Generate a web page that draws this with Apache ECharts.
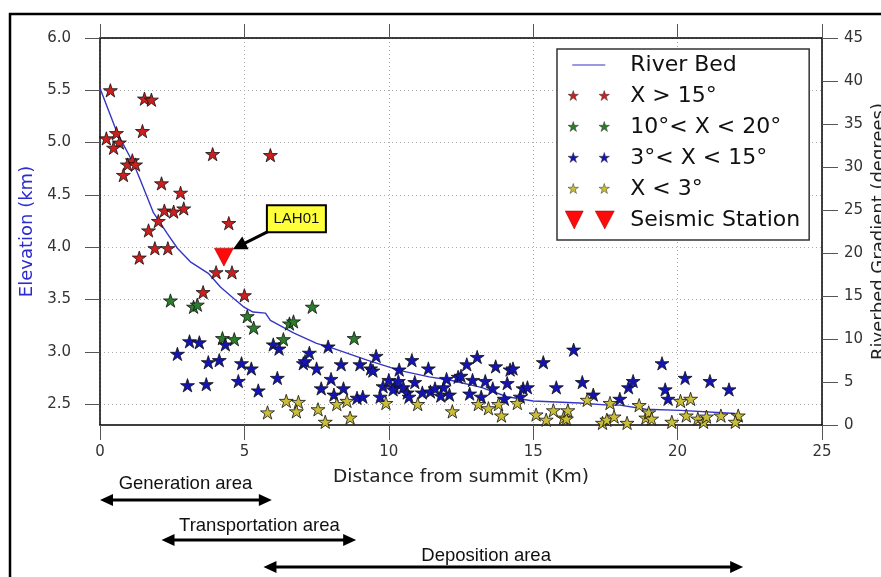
<!DOCTYPE html>
<html>
<head>
<meta charset="utf-8">
<script src="https://cdn.jsdelivr.net/npm/echarts@6/dist/echarts.min.js"></script>
<style>
  html, body { margin: 0; padding: 0; background: #fff; }
  #main { width: 881px; height: 577px; }
</style>
</head>
<body>
<div id="main"></div>
<script>
// river bed profile (km from summit, elevation km)
const riverKm = [0, 0.6, 1.16, 1.4, 1.85, 2.33, 2.68, 3.13, 3.75, 4.17, 4.63, 4.97, 5.3, 5.73, 5.9, 6.7, 7.5, 8.1, 9.25, 10.4, 11.4, 12.1, 13.2, 14.1, 15.0, 16.6, 17.6, 18.0, 18.9, 20.1, 22.0];
const riverElev = [5.52, 5.09, 4.80, 4.64, 4.33, 4.13, 3.99, 3.86, 3.75, 3.62, 3.51, 3.43, 3.38, 3.37, 3.30, 3.18, 3.08, 3.03, 2.92, 2.82, 2.76, 2.73, 2.66, 2.57, 2.53, 2.51, 2.49, 2.49, 2.45, 2.44, 2.41];

// [distance, elevation] per gradient class
const steepPts = [[0.36,5.50],[1.54,5.42],[1.78,5.41],[0.22,5.04],[0.57,5.09],[1.47,5.11],[0.67,5.00],[0.47,4.95],[1.12,4.83],[0.95,4.79],[1.23,4.79],[0.81,4.69],[3.9,4.89],[5.9,4.88],[2.13,4.61],[2.79,4.52],[2.23,4.35],[2.55,4.34],[2.9,4.37],[2.02,4.25],[4.46,4.23],[1.68,4.16],[1.9,3.99],[2.35,3.99],[1.36,3.90],[4.02,3.76],[4.57,3.76],[5.0,3.54],[3.57,3.57]];
const midPts = [[2.44,3.49],[3.24,3.43],[3.37,3.45],[5.1,3.34],[5.32,3.23],[4.24,3.13],[4.65,3.12],[7.35,3.43],[6.56,3.27],[6.7,3.29],[6.35,3.12],[8.8,3.13]];
const gentlePts = [[3.1,3.10],[3.44,3.09],[4.34,3.07],[2.68,2.98],[3.75,2.90],[4.13,2.92],[4.9,2.89],[5.24,2.84],[3.03,2.68],[3.68,2.69],[4.79,2.72],[5.48,2.63],
  [6.0,3.07],[6.2,3.03],[6.14,2.75],[7.25,2.99],[7.04,2.89],[7.1,2.91],[7.5,2.84],[7.9,3.05],[8.35,2.88],[8.0,2.74],[7.66,2.65],[8.43,2.65],[8.1,2.59],[9.0,2.88],[9.37,2.84],[9.45,2.82],[9.56,2.96],[8.9,2.56],[9.1,2.57],[9.7,2.57],[9.8,2.67],[10.0,2.73],
  [10.2,2.66],[10.33,2.72],[10.5,2.66],[10.64,2.61],[10.15,2.64],[10.7,2.57],[10.8,2.92],[10.36,2.83],[10.9,2.71],[11.37,2.84],[11.16,2.61],[11.44,2.62],[11.6,2.65],
  [11.9,2.66],[11.8,2.58],[12.1,2.59],[12.0,2.74],[12.4,2.76],[12.5,2.77],[12.7,2.88],[13.06,2.95],[12.9,2.73],[13.34,2.72],[12.8,2.60],[13.2,2.57],[13.6,2.65],[13.7,2.86],[14.2,2.83],[14.3,2.84],[14.1,2.70],[14.0,2.55],[14.55,2.57],[14.65,2.65],[14.8,2.66],
  [15.35,2.90],[16.4,3.02],[16.7,2.71],[15.8,2.66],[17.08,2.59],[18.0,2.55],[18.3,2.66],[18.46,2.72],[19.46,2.89],[19.57,2.64],[19.67,2.55],[20.26,2.75],[21.12,2.72],[21.78,2.64]];
const flatPts = [[5.8,2.42],[6.45,2.53],[6.87,2.52],[6.8,2.43],[7.55,2.45],[7.8,2.33],[8.2,2.50],[8.55,2.53],[8.66,2.37],[9.9,2.51],[11.0,2.50],[12.2,2.43],[13.1,2.50],[13.45,2.46],[13.8,2.50],[13.9,2.39],[14.45,2.51],[15.1,2.40],[15.45,2.35],[15.7,2.44],[16.05,2.37],[16.15,2.36],[16.2,2.44],[16.87,2.54],[17.4,2.32],[17.55,2.35],[17.66,2.51],[17.8,2.38],[18.25,2.32],[18.67,2.49],[18.9,2.37],[19.0,2.42],[19.1,2.36],[19.8,2.33],[20.1,2.53],[20.45,2.55],[20.3,2.39],[20.7,2.36],[20.9,2.33],[21.0,2.38],[21.5,2.39],[22.1,2.39],[22.0,2.33]];
const stationPt = [[4.29, 3.905]];
const stationName = "LAH01";

const elevTicks = [2.5, 3.0, 3.5, 4.0, 4.5, 5.0, 5.5, 6.0];
const legendNames = ["River Bed", "X > 15°", "10°< X < 20°", "3°< X < 15°", "X < 3°", "Seismic Station"];

// annotated zones along the x axis (km)
const areaNames = ["Generation area", "Transportation area", "Deposition area"];
const areaStart = [0, 2.13, 5.66];
const areaEnd = [5.95, 8.87, 22.27];
const areaTextKm = [2.96, 5.52, 13.37];

function starPath(cx, cy, R) {
  const r = R * 0.382;
  let d = "";
  for (let i = 0; i < 10; i++) {
    const a = -Math.PI / 2 + i * Math.PI / 5;
    const rr = i % 2 ? r : R;
    d += (i ? "L" : "M") + (cx + rr * Math.cos(a)).toFixed(2) + "," + (cy + rr * Math.sin(a)).toFixed(2);
  }
  return d + "Z";
}
const STAR = "path://" + starPath(50, 50, 50);
// legend icons laid in a 61x18 frame so all entries align
const pad = "M0,0L0,0M61,18L61,18";
const iconStars = "path://" + pad + starPath(9, 9, 5.5) + starPath(40, 9, 5.5);
const iconTri = "path://" + pad + "M1,0L19,0L10,18ZM31,0L50,0L40.5,18Z";
const iconLine = "path://" + pad + "M8,8.4L41,8.4L41,9.6L8,9.6Z";

const colors = { line: "#3535c8", red: "#cc1f1f", green: "#2a7d2a", blue: "#1414b4", yellow: "#c9bd3a", tri: "#ff0a0a" };

const myChart = echarts.init(document.getElementById("main"));

function starSeries(name, data, color) {
  return {
    name: name, type: "scatter", data: data, symbol: STAR, symbolSize: 14, symbolKeepAspect: true,
    itemStyle: { color: color, borderColor: "#111", borderWidth: 0.8, opacity: 1 },
    silent: true, z: 3,
  };
}

const option = {
  animation: false,
  textStyle: { fontFamily: "DejaVu Sans" },
  grid: { left: 100, top: 38, width: 722, height: 387, containLabel: false, outerBoundsMode: "none" },
  legend: {
    orient: "vertical", left: 557, top: 49,
    padding: [5, 9, 9, 7], itemGap: 9, itemWidth: 61, itemHeight: 18,
    backgroundColor: "#fff", borderColor: "#333", borderWidth: 1.5,
    selectedMode: false,
    textStyle: { fontSize: 22, color: "#111", fontFamily: "DejaVu Sans" },
    data: [
      { name: legendNames[0], icon: iconLine, itemStyle: { color: colors.line, borderWidth: 0 } },
      { name: legendNames[1], icon: iconStars, itemStyle: { color: colors.red, borderColor: "#333", borderWidth: 0.5 } },
      { name: legendNames[2], icon: iconStars, itemStyle: { color: colors.green, borderColor: "#333", borderWidth: 0.5 } },
      { name: legendNames[3], icon: iconStars, itemStyle: { color: colors.blue, borderColor: "#333", borderWidth: 0.5 } },
      { name: legendNames[4], icon: iconStars, itemStyle: { color: colors.yellow, borderColor: "#333", borderWidth: 0.5 } },
      { name: legendNames[5], icon: iconTri, itemStyle: { color: colors.tri, borderColor: "#900", borderWidth: 0.5 } },
    ],
  },
  xAxis: [
    {
      type: "value", position: "bottom", min: 0, max: 25, interval: 5,
      name: "Distance from summit (Km)", nameLocation: "middle", nameGap: 43,
      nameTextStyle: { fontSize: 18.5, color: "#222" },
      axisLine: { onZero: false, lineStyle: { color: "#000", width: 1.5 } },
      axisTick: { length: 15, lineStyle: { color: "#555", width: 1 } },
      axisLabel: { margin: 20, fontSize: 15, color: "#333" },
      splitLine: { show: true, lineStyle: { color: "#aaa", type: [1, 3], width: 1 } },
    },
    {
      type: "value", position: "top", min: 0, max: 25, interval: 5,
      axisLine: { onZero: false, lineStyle: { color: "#000", width: 1.5 } },
      axisTick: { length: 14, lineStyle: { color: "#555", width: 1 } },
      axisLabel: { show: false },
      splitLine: { show: false },
    },
  ],
  yAxis: [
    {
      type: "value", position: "left", min: 2.3, max: 6.0,
      name: "Elevation (km)", nameLocation: "middle", nameGap: 62, nameRotate: 90,
      nameTextStyle: { fontSize: 18, color: "#2b2bd0" },
      axisLine: { show: true, onZero: false, lineStyle: { color: "#000", width: 1.5 } },
      axisTick: { show: true, length: 15, customValues: elevTicks, lineStyle: { color: "#555", width: 1 } },
      axisLabel: { customValues: elevTicks, formatter: (v) => v.toFixed(1), margin: 29, fontSize: 15, color: "#333" },
      splitLine: { show: true, lineStyle: { color: "#aaa", type: [1, 3], width: 1 } },
    },
    {
      type: "value", position: "right", min: 0, max: 45, interval: 5,
      name: "Riverbed Gradient (degrees)", nameLocation: "middle", nameGap: 48, nameRotate: 90,
      nameMoveOverlap: false,
      nameTextStyle: { fontSize: 18, color: "#222" },
      axisLine: { show: true, onZero: false, lineStyle: { color: "#000", width: 1.5 } },
      axisTick: { show: true, length: 16, lineStyle: { color: "#555", width: 1 } },
      axisLabel: { margin: 22, fontSize: 15, color: "#333" },
      splitLine: { show: false },
    },
  ],
  series: [
    {
      name: legendNames[0], type: "line", data: riverKm.map((k, i) => [k, riverElev[i]]),
      showSymbol: false, symbol: "none", silent: true, z: 2,
      lineStyle: { color: colors.line, width: 1.4 }, itemStyle: { color: colors.line },
    },
    starSeries(legendNames[1], steepPts, colors.red),
    starSeries(legendNames[2], midPts, colors.green),
    starSeries(legendNames[3], gentlePts, colors.blue),
    starSeries(legendNames[4], flatPts, colors.yellow),
    {
      name: legendNames[5], type: "scatter", data: stationPt,
      symbol: "path://M0,0L100,0L50,100Z", symbolSize: [19, 18], silent: true, z: 4,
      itemStyle: { color: colors.tri, borderColor: "#900", borderWidth: 0.5, opacity: 1 },
    },
  ],
};
myChart.setOption(option);

// annotations placed from the axes' own scales
function doubleArrow(x1, x2, y) {
  const hl = 13, hw = 6, st = 1.6;
  return [[x1, y], [x1 + hl, y - hw], [x1 + hl, y - st], [x2 - hl, y - st], [x2 - hl, y - hw], [x2, y],
    [x2 - hl, y + hw], [x2 - hl, y + st], [x1 + hl, y + st], [x1 + hl, y + hw]];
}
function singleArrow(x1, y1, x2, y2) {
  const dx = x2 - x1, dy = y2 - y1, len = Math.sqrt(dx * dx + dy * dy);
  const ux = dx / len, uy = dy / len, nx = -uy, ny = ux;
  const hl = 14, hw = 7, st = 1.5;
  const bx = x2 - ux * hl, by = y2 - uy * hl;
  return [[x1 + nx * st, y1 + ny * st], [bx + nx * st, by + ny * st], [bx + nx * hw, by + ny * hw], [x2, y2],
    [bx - nx * hw, by - ny * hw], [bx - nx * st, by - ny * st], [x1 - nx * st, y1 - ny * st]];
}

const areaY = [500, 540, 567];
const areaTextY = [484, 526, 556];
const graphics = [
  { type: "rect", shape: { x: 10, y: 14, width: 1000, height: 1000 }, style: { fill: "none", stroke: "#000", lineWidth: 2.5 }, silent: true },
];
areaNames.forEach((nm, i) => {
  const x1 = myChart.convertToPixel({ xAxisIndex: 0 }, areaStart[i]);
  const x2 = myChart.convertToPixel({ xAxisIndex: 0 }, areaEnd[i]);
  const xt = myChart.convertToPixel({ xAxisIndex: 0 }, areaTextKm[i]);
  graphics.push({ type: "polygon", shape: { points: doubleArrow(x1, x2, areaY[i]) }, style: { fill: "#000" }, silent: true });
  graphics.push({
    type: "text", x: xt, y: areaTextY[i], silent: true,
    style: { text: nm, fontSize: 18.5, fontFamily: "Liberation Sans", fill: "#111", align: "center", verticalAlign: "middle" },
  });
});
const sp = myChart.convertToPixel({ seriesIndex: 5 }, stationPt[0]);
graphics.push({ type: "polygon", shape: { points: singleArrow(sp[0] + 45, sp[1] - 26, sp[0] + 9, sp[1] - 8) }, style: { fill: "#000" }, silent: true, z: 10 });
graphics.push({ type: "rect", shape: { x: sp[0] + 43, y: sp[1] - 52, width: 59, height: 27 }, style: { fill: "#ffff3a", stroke: "#000", lineWidth: 2 }, silent: true, z: 11 });
graphics.push({
  type: "text", x: sp[0] + 72.5, y: sp[1] - 38.5, silent: true, z: 12,
  style: { text: stationName, fontSize: 15, fontFamily: "Liberation Sans", fill: "#111", align: "center", verticalAlign: "middle" },
});
myChart.setOption({ graphic: graphics });

window.addEventListener("resize", () => {
  myChart.resize();
});
</script>
</body>
</html>
